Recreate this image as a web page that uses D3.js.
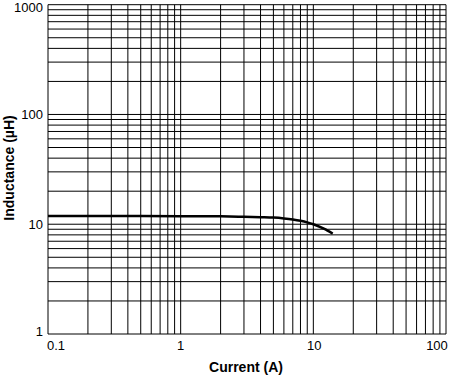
<!DOCTYPE html>
<html>
<head>
<meta charset="utf-8">
<script src="https://cdn.jsdelivr.net/npm/d3@7"></script>
<style>
  body { margin: 0; background: white; }
  text { font-family: "Liberation Sans", Arial, sans-serif; }
</style>
</head>
<body>
<div id="container"></div>
<script>
/* CONSTANTS AND GLOBALS */
const width = 450
const height = 376
const margin = {top: 4.7, right: 4, bottom: 42, left: 48}

// curve
const current = [0.1, 0.5, 1, 2, 3, 4, 5, 6, 7, 8, 9, 10, 12, 14]
const inductance = [11.9, 11.9, 11.85, 11.8, 11.7, 11.6, 11.5, 11.3, 11.05, 10.75, 10.4, 10.0, 9.1, 8.2]

const xTicks = [0.1, 1, 10, 100]
const xTickLabels = ["0.1", "1", "10", "100"]
const yTicks = [1, 10, 100, 1000]
const yTickLabels = ["1", "10", "100", "1000"]

const svg = d3.select("#container")
  .append("svg")
  .attr("width", width)
  .attr("height", height)
  .style("background-color", "white")

/* SCALES */
const xScale = d3.scaleLog()
  .domain([0.1, 100])
  .range([margin.left, width - margin.right])

const yScale = d3.scaleLog()
  .domain([1, 1000])
  .range([height - margin.bottom, margin.top])

// all grid values 1..9 per decade
const xGrid = d3.range(-1, 2).flatMap(e => d3.range(1, 10).map(m => m * Math.pow(10, e))).concat([100])
const yGrid = d3.range(0, 3).flatMap(e => d3.range(1, 10).map(m => m * Math.pow(10, e))).concat([1000])

svg.append("g")
  .selectAll("line")
  .data(xGrid)
  .join("line")
  .attr("x1", d => xScale(d))
  .attr("x2", d => xScale(d))
  .attr("y1", yScale(1))
  .attr("y2", yScale(1000))
  .attr("stroke", "black")
  .attr("stroke-width", 1)

svg.append("g")
  .selectAll("line")
  .data(yGrid)
  .join("line")
  .attr("x1", xScale(0.1))
  .attr("x2", xScale(100))
  .attr("y1", d => yScale(d))
  .attr("y2", d => yScale(d))
  .attr("stroke", "black")
  .attr("stroke-width", 1)

/* TICK LABELS */
// first and last labels are nudged inward like the original
const xShift = [8, 0, 1, -9]
svg.append("g")
  .selectAll("text")
  .data(xTicks)
  .join("text")
  .attr("x", (d, i) => xScale(d) + xShift[i])
  .attr("y", height - margin.bottom + 16)
  .attr("text-anchor", "middle")
  .style("font-size", "13px")
  .text((d, i) => xTickLabels[i])

svg.append("g")
  .selectAll("text")
  .data(yTicks)
  .join("text")
  .attr("x", margin.left - 5)
  .attr("y", (d, i) => yScale(d) + (i == 3 ? 7 : (i == 0 ? 2 : 5)))
  .attr("text-anchor", "end")
  .style("font-size", "13px")
  .text((d, i) => yTickLabels[i])

/* AXIS TITLES */
svg.append("text")
  .attr("x", 246)
  .attr("y", 372)
  .attr("text-anchor", "middle")
  .style("font-size", "14px")
  .style("font-weight", "bold")
  .text("Current (A)")

svg.append("text")
  .attr("transform", "translate(14,168)rotate(-90)")
  .attr("text-anchor", "middle")
  .style("font-size", "14px")
  .style("font-weight", "bold")
  .text("Inductance (µH)")

/* CURVE */
const line = d3.line()
  .x((d, i) => xScale(current[i]))
  .y(d => yScale(d))
  .curve(d3.curveMonotoneX)

svg.append("path")
  .datum(inductance)
  .attr("d", line)
  .attr("fill", "none")
  .attr("stroke", "black")
  .attr("stroke-width", 2.5)
</script>
</body>
</html>
